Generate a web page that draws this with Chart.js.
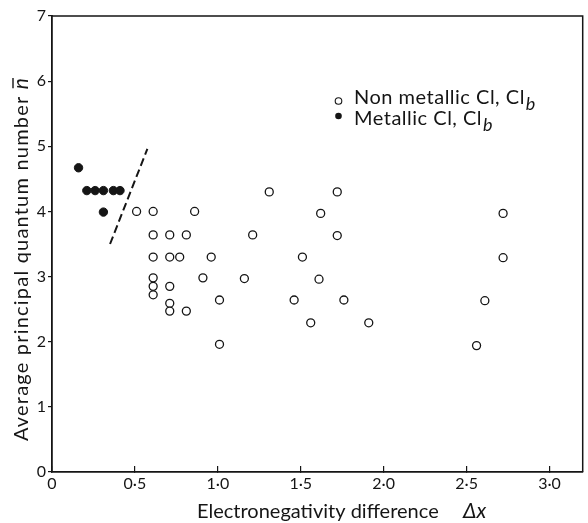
<!DOCTYPE html>
<html>
<head>
<meta charset="utf-8">
<script src="https://cdn.jsdelivr.net/npm/chart.js@4.4.0/dist/chart.umd.min.js"></script>
<style>
  html, body { margin: 0; padding: 0; background: #fff; }
  #wrap { width: 588px; height: 523px; }
</style>
</head>
<body>
<div id="wrap"><canvas id="qnchart"></canvas></div>
<script>
// non metallic compounds
var nonMetalX = [0.51, 0.61, 0.86, 0.61, 0.71, 0.81, 1.21, 0.61, 0.71, 0.77, 0.96,
                 0.61, 0.61, 0.61, 0.71, 0.71, 0.71, 0.81, 0.91, 1.16, 1.01, 1.01,
                 1.31, 1.72, 1.62, 1.72, 1.51, 1.61, 1.46, 1.76, 1.56, 1.91,
                 2.72, 2.72, 2.61, 2.56];
var nonMetalY = [4.0, 4.0, 4.0, 3.64, 3.64, 3.64, 3.64, 3.3, 3.3, 3.3, 3.3,
                 2.98, 2.85, 2.72, 2.85, 2.59, 2.47, 2.47, 2.98, 2.97, 2.64, 1.96,
                 4.3, 4.3, 3.97, 3.63, 3.3, 2.96, 2.64, 2.64, 2.29, 2.29,
                 3.97, 3.29, 2.63, 1.94];
// metallic compounds
var metalX = [0.16, 0.21, 0.26, 0.31, 0.37, 0.41, 0.31];
var metalY = [4.67, 4.32, 4.32, 4.32, 4.32, 4.32, 3.99];
// dividing line between the two groups
var boundaryX = [0.35, 0.575];
var boundaryY = [3.5, 4.96];

var xTicks = [0, 0.5, 1.0, 1.5, 2.0, 2.5, 3.0];
var yTicks = [0, 1, 2, 3, 4, 5, 6, 7];

var ink = '#151515';
var face = 'Lato, "Open Sans", sans-serif';

function pts(xs, ys) {
  return xs.map(function (x, i) { return { x: x, y: ys[i] }; });
}

Chart.defaults.font.family = face;
Chart.defaults.color = ink;

var decor = {
  id: 'decor',
  afterDraw: function (chart) {
    var ctx = chart.ctx, a = chart.chartArea;
    ctx.save();
    ctx.strokeStyle = ink;
    ctx.fillStyle = ink;

    // top and right edges of the frame
    ctx.lineWidth = 1.5;
    ctx.beginPath();
    ctx.moveTo(a.left, a.top);
    ctx.lineTo(a.right, a.top);
    ctx.lineTo(a.right, a.bottom);
    ctx.stroke();

    // x axis title
    ctx.textBaseline = 'alphabetic';
    ctx.textAlign = 'left';
    ctx.font = '20px ' + face;
    ctx.fillText('Electronegativity difference', 197, 518);
    ctx.font = 'italic 21px ' + face;
    ctx.fillText('\u0394x', 463, 518);

    // y axis title, rotated
    ctx.save();
    ctx.translate(28, 259);
    ctx.rotate(-Math.PI / 2);
    ctx.letterSpacing = '1.2px';
    ctx.font = '20px ' + face;
    var yt = 'Average principal quantum number ';
    var w1 = ctx.measureText(yt).width;
    ctx.font = 'italic 21px ' + face;
    var w2 = ctx.measureText('n').width;
    var x0 = -(w1 + w2) / 2;
    ctx.font = '20px ' + face;
    ctx.fillText(yt, x0, 0);
    ctx.font = 'italic 21px ' + face;
    ctx.fillText('n', x0 + w1, 0);
    ctx.lineWidth = 1.4;
    ctx.beginPath();
    ctx.moveTo(x0 + w1 + 1, -15);
    ctx.lineTo(x0 + w1 + w2 - 1, -15);
    ctx.stroke();
    ctx.restore();

    // key
    var rows = [
      { my: 101, ty: 98, filled: false, label: 'Non metallic Cl, Cl' },
      { my: 116, ty: 119, filled: true, label: 'Metallic Cl, Cl' }
    ];
    ctx.letterSpacing = '0.5px';
    rows.forEach(function (r) {
      ctx.beginPath();
      ctx.arc(338.5, r.my, 3.3, 0, Math.PI * 2);
      if (r.filled) { ctx.fill(); } else { ctx.lineWidth = 1.1; ctx.stroke(); }
      ctx.font = '20px ' + face;
      ctx.textBaseline = 'middle';
      ctx.fillText(r.label, 354, r.ty);
      var lw = ctx.measureText(r.label).width;
      ctx.font = 'italic 18px ' + face;
      ctx.fillText('b', 354 + lw + 1, r.ty + 6);
    });
    ctx.restore();
  }
};

new Chart(document.getElementById('qnchart'), {
  type: 'scatter',
  data: {
    datasets: [{
      label: 'Non metallic',
      data: pts(nonMetalX, nonMetalY),
      pointStyle: 'circle',
      pointRadius: 4,
      pointBorderWidth: 1.3,
      pointBackgroundColor: '#fff',
      pointBorderColor: ink
    }, {
      label: 'Metallic',
      data: pts(metalX, metalY),
      pointStyle: 'circle',
      pointRadius: 4.2,
      pointBorderWidth: 1,
      pointBackgroundColor: ink,
      pointBorderColor: ink
    }, {
      label: 'Boundary',
      type: 'line',
      data: pts(boundaryX, boundaryY),
      borderColor: ink,
      borderWidth: 2,
      borderDash: [8, 4],
      pointRadius: 0,
      fill: false
    }]
  },
  options: {
    responsive: true,
    maintainAspectRatio: false,
    animation: false,
    layout: { padding: { left: 0, right: 1, top: 16, bottom: 0 } },
    plugins: { legend: { display: false }, tooltip: { enabled: false } },
    scales: {
      x: {
        type: 'linear',
        min: 0,
        max: 3.2,
        afterBuildTicks: function (s) { s.ticks = xTicks.map(function (v) { return { value: v }; }); },
        afterFit: function (s) { s.height = 51; },
        grid: { display: true, drawOnChartArea: false, tickLength: -6, color: ink, lineWidth: 1.2 },
        border: { display: true, color: ink, width: 1.8 },
        ticks: {
          padding: 8,
          font: { size: 16 },
          color: ink,
          callback: function (v) { return v === 0 ? '0' : v.toFixed(1).replace('.', '\u00b7'); }
        }
      },
      y: {
        type: 'linear',
        min: 0,
        max: 7,
        afterBuildTicks: function (s) { s.ticks = yTicks.map(function (v) { return { value: v }; }); },
        afterFit: function (s) { s.width = 52; },
        grid: { display: true, drawOnChartArea: false, tickLength: 4, color: ink, lineWidth: 1.2 },
        border: { display: true, color: ink, width: 1.8 },
        ticks: { padding: 2, font: { size: 16 }, color: ink }
      }
    }
  },
  plugins: [decor]
});
</script>
</body>
</html>
